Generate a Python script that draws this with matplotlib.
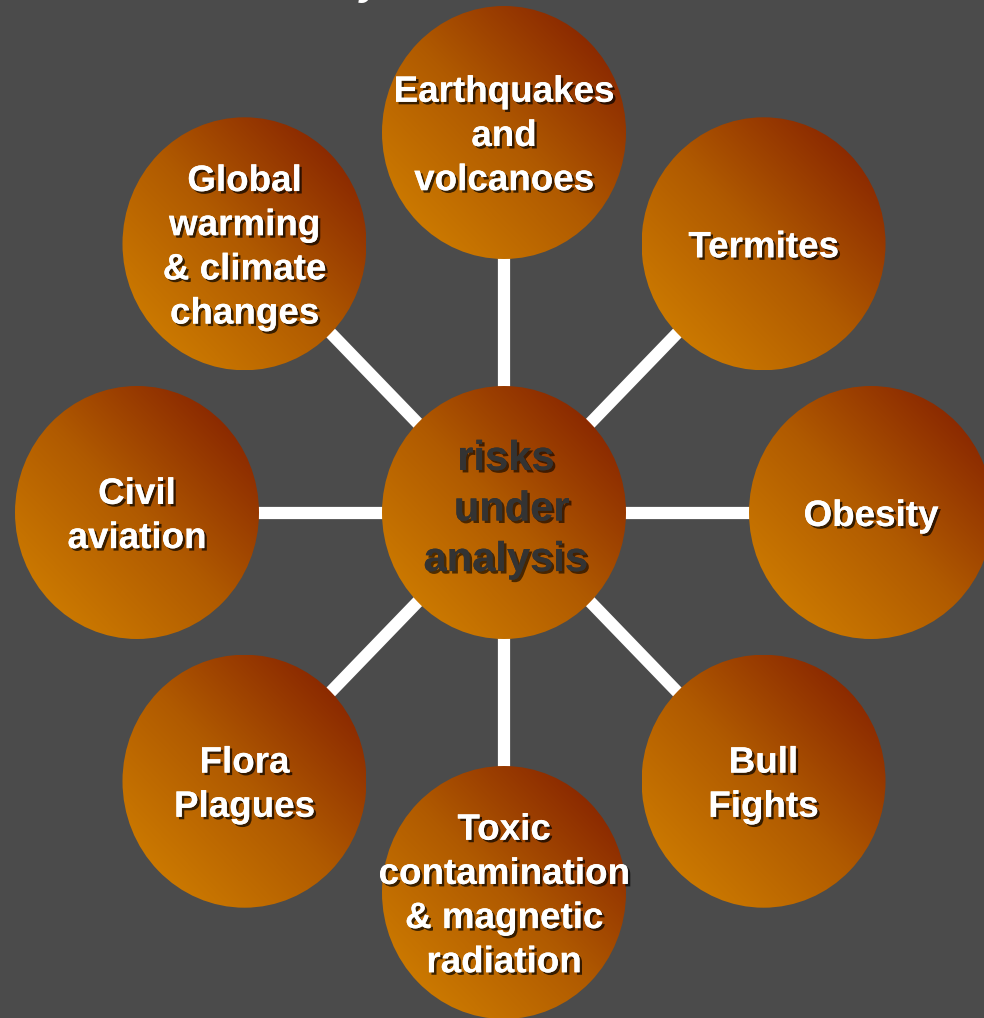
import numpy as np
import matplotlib
matplotlib.use('Agg')
import matplotlib.pyplot as plt
import matplotlib.patheffects as pe
from matplotlib.patches import Ellipse
from matplotlib.colors import LinearSegmentedColormap

# labels round the hub, clockwise from the top
labels = ['Earthquakes\nand\nvolcanoes', 'Termites', 'Obesity', 'Bull\nFights',
          'Toxic\ncontamination\n& magnetic\nradiation', 'Flora\nPlagues',
          'Civil\naviation', 'Global\nwarming\n& climate\nchanges']
hub_label = 'risks\n under\nanalysis'

W, H = 984, 1018
bg = '#4b4b4b'
cx, cy = 504, 512.5     # hub centre (pixels)
ring_x, ring_y = 367, 380   # hub -> outer circles
rx, ry = 122, 126.5         # circle half sizes (slightly stretched)

cmap = LinearSegmentedColormap.from_list('orange', ['#cc7a00', '#b05a00', '#8a2800'])

fig = plt.figure(figsize=(W / 100, H / 100), dpi=100, facecolor=bg)
ax = fig.add_axes([0, 0, 1, 1])
ax.set_xlim(0, W)
ax.set_ylim(H, 0)
ax.set_facecolor(bg)
ax.axis('off')

# clipped tail of the title above the chart
ax.text(360, -6, 'y', color='white', fontsize=30, fontweight='bold', style='italic',
        family='Liberation Sans', ha='left', va='baseline', zorder=1)

n = len(labels)
pos = []
for i in range(n):
    a = np.deg2rad(90 - i * 360 / n)
    pos.append((cx + ring_x * np.cos(a), cy - ring_y * np.sin(a)))

# spokes
for x, y in pos:
    ax.plot([cx, x], [cy, y], color='white', lw=8.8, solid_capstyle='butt', zorder=1)

g = np.linspace(-1, 1, 200)
gx, gy = np.meshgrid(g, g)
grad = np.clip((gx - gy) / 2.0 / 0.75, -1, 1)


def ball(x, y):
    c = Ellipse((x, y), 2 * rx, 2 * ry, facecolor='none', edgecolor='none', zorder=2)
    ax.add_patch(c)
    im = ax.imshow(grad, cmap=cmap, vmin=-1, vmax=1, interpolation='bilinear',
                   extent=[x - rx, x + rx, y + ry, y - ry], zorder=2, aspect='auto')
    im.set_clip_path(c)


shadow = [pe.withSimplePatchShadow(offset=(1.8, -1.8), shadow_rgbFace='black', alpha=0.7), pe.Normal()]

for (x, y), lab in zip(pos, labels):
    ball(x, y)
    ax.text(x, y + 4, lab, ha='center', va='center', multialignment='center',
            color='white', fontsize=26.5, fontweight='bold', family='Liberation Sans',
            linespacing=1.34, zorder=3, path_effects=shadow)

ball(cx, cy)
ax.text(cx + 2, cy - 3, hub_label, ha='center', va='center', multialignment='center',
        color='#333333', fontsize=30, fontweight='bold', family='Liberation Sans',
        linespacing=1.34, zorder=3,
        path_effects=[pe.withSimplePatchShadow(offset=(1.8, -1.8), shadow_rgbFace='black', alpha=0.6), pe.Normal()])

ax.set_xlim(0, W)
ax.set_ylim(H, 0)
fig.savefig('out.png', dpi=100, facecolor=bg)
